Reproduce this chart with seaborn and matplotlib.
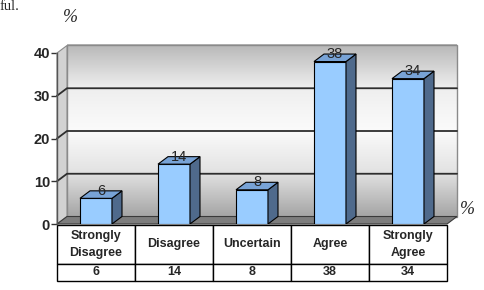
import numpy as np
import pandas as pd
import matplotlib.pyplot as plt
import seaborn as sns
from matplotlib.patches import Polygon
from matplotlib.colors import LinearSegmentedColormap

categories = ['Strongly\nDisagree', 'Disagree', 'Uncertain', 'Agree', 'Strongly\nAgree']
percent = [6, 14, 8, 38, 34]
yticks = [0, 10, 20, 30, 40]

df = pd.DataFrame({'response': categories, 'percent': percent})

sns.set_style('white')
plt.rcParams['font.family'] = ['Liberation Sans', 'DejaVu Sans']

fig = plt.figure(figsize=(4.85, 2.90), dpi=100)
ax = fig.add_axes([57/485, 66/290, 390/485, 171/290])

# depth of the fake 3d box, in data units
dx = 10/78
dy = 7.5/(171/40)
x0, x1 = -0.5, 4.5
ytop = yticks[-1]

# back wall gradient
wall = LinearSegmentedColormap.from_list('wall', ['#a6a6a6', '#e2e2e2', '#fbfbfb', '#eeeeee', '#b8b8b8'])
grad = np.linspace(0, 1, 200).reshape(-1, 1)
ax.imshow(grad, cmap=wall, origin='lower', aspect='auto', zorder=0,
          extent=(x0+dx, x1+dx, dy, ytop+dy), clip_on=False)
ax.add_patch(Polygon([(x0+dx, dy), (x1+dx, dy), (x1+dx, ytop+dy), (x0+dx, ytop+dy)],
                     fill=False, edgecolor='#8a8a8a', lw=1, zorder=1, clip_on=False))

# left side wall
ax.add_patch(Polygon([(x0, 0), (x0+dx, dy), (x0+dx, ytop+dy), (x0, ytop)],
                     facecolor='#d2d2d2', edgecolor='#8a8a8a', lw=0.8, zorder=1, clip_on=False))

# floor
ax.add_patch(Polygon([(x0, 0), (x1, 0), (x1+dx, dy), (x0+dx, dy)],
                     facecolor='#7d7d7d', edgecolor='#3a3a3a', lw=0.8, zorder=1, clip_on=False))

# gridlines on side and back wall
for t in yticks[1:-1]:
    ax.plot([x0, x0+dx, x1+dx], [t, t+dy, t+dy], color='#2e2e2e', lw=1.3, zorder=1, clip_on=False)

sns.barplot(data=df, x='response', y='percent', color='#99ccff', saturation=1,
            width=0.41, edgecolor='black', linewidth=0.8, ax=ax, zorder=3)

for p, v in zip(ax.containers[0], percent):
    bx, bw, bh = p.get_x(), p.get_width(), p.get_height()
    ax.add_patch(Polygon([(bx+bw, 0), (bx+bw+dx, dy), (bx+bw+dx, bh+dy), (bx+bw, bh)],
                         facecolor='#4f6a8c', edgecolor='black', lw=0.8, zorder=3))
    ax.add_patch(Polygon([(bx, bh), (bx+bw, bh), (bx+bw+dx, bh+dy), (bx+dx, bh+dy)],
                         facecolor='#78a3d6', edgecolor='black', lw=0.8, zorder=3))
    ax.text(bx + bw/2 + dx/2, bh + dy, str(v), ha='center', va='center',
            fontsize=10.5, zorder=4)

ax.set_xlim(x0, x1)
ax.set_ylim(0, ytop)
ax.set_yticks(yticks)
ax.set_yticklabels([str(t) for t in yticks], fontsize=10.5, fontweight='bold')
ax.tick_params(axis='y', length=4, width=1, color='#333333', pad=1, left=True)
ax.set_xticks([])
ax.set_xlabel('')
ax.set_ylabel('')
for s in ['top', 'right', 'bottom']:
    ax.spines[s].set_visible(False)
ax.spines['left'].set_color('#555555')
ax.spines['left'].set_linewidth(1)
ax.spines['left'].set_zorder(2)

# data table under the chart
tab = ax.table(cellText=[[str(v) for v in percent]], colLabels=categories,
               cellLoc='center', bbox=[0, -0.333, 1, 0.327])
tab.auto_set_font_size(False)
tab.set_fontsize(9)
for (r, c), cell in tab.get_celld().items():
    cell.set_height(39 if r == 0 else 17)
    cell.set_linewidth(1)
    cell.set_edgecolor('black')
    cell.get_text().set_fontweight('bold')
    cell.get_text().set_linespacing(1.45)

fig.text(70/485, 1-18/290, '%', family='Liberation Serif', style='italic', fontsize=13,
         ha='center', va='center')
fig.text(467/485, 1-210/290, '%', family='Liberation Serif', style='italic', fontsize=13,
         ha='center', va='center')
fig.text(0, 1-10.5/290, 'ful.', family='Liberation Serif', fontsize=10.5,
         ha='left', va='baseline')

fig.savefig('out.png', dpi=100)
